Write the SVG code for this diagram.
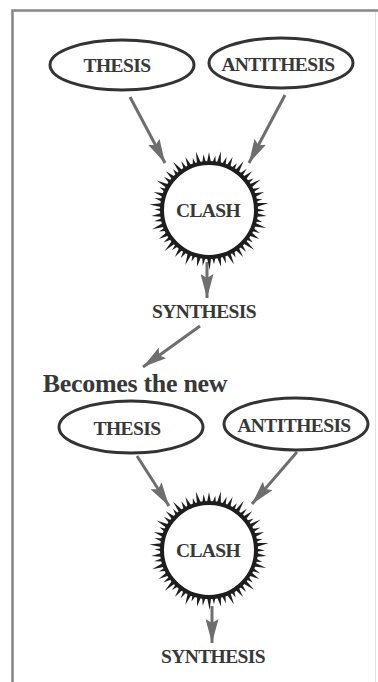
<svg xmlns="http://www.w3.org/2000/svg" xmlns:xlink="http://www.w3.org/1999/xlink" width="378" height="682" viewBox="0 0 378 682">
<style>
.t{font-family:"Liberation Serif","Times New Roman",serif;font-weight:bold;fill:#383838;text-anchor:middle;font-size:19.5px;letter-spacing:-0.6px}
.el{fill:#fff;stroke:#333;stroke-width:3}
.ar{stroke:#6e6e6e;stroke-width:3;fill:none;marker-end:url(#ah)}
.sp{fill:#1e1e1e}
</style>
<defs>
<marker id="ah" markerUnits="userSpaceOnUse" markerWidth="26" markerHeight="13" refX="24" refY="6.5" orient="auto">
<path d="M0,0 L24,6.5 L0,13 L4,6.5 Z" fill="#6e6e6e"/>
</marker>
<path id="s1" class="sp" d="M-2.3,-46 L0,-58 L2.3,-46Z"/>
<path id="s2" class="sp" d="M-2.1,-46 L0.7,-54.5 L2.1,-46Z"/>
<path id="s3" class="sp" d="M-2.3,-46 L-0.7,-60 L2.3,-46Z"/>
<path id="s4" class="sp" d="M-2.1,-46 L0.4,-56 L2.1,-46Z"/>
<g id="ring">
<circle r="47" fill="#fff" stroke="#1e1e1e" stroke-width="4"/>
<use xlink:href="#s1" transform="rotate(0)"/><use xlink:href="#s2" transform="rotate(6)"/><use xlink:href="#s3" transform="rotate(12)"/><use xlink:href="#s4" transform="rotate(18)"/>
<use xlink:href="#s1" transform="rotate(24)"/><use xlink:href="#s2" transform="rotate(30)"/><use xlink:href="#s3" transform="rotate(36)"/><use xlink:href="#s4" transform="rotate(42)"/>
<use xlink:href="#s1" transform="rotate(48)"/><use xlink:href="#s2" transform="rotate(54)"/><use xlink:href="#s3" transform="rotate(60)"/><use xlink:href="#s4" transform="rotate(66)"/>
<use xlink:href="#s1" transform="rotate(72)"/><use xlink:href="#s2" transform="rotate(78)"/><use xlink:href="#s3" transform="rotate(84)"/><use xlink:href="#s4" transform="rotate(90)"/>
<use xlink:href="#s1" transform="rotate(96)"/><use xlink:href="#s2" transform="rotate(102)"/><use xlink:href="#s3" transform="rotate(108)"/><use xlink:href="#s4" transform="rotate(114)"/>
<use xlink:href="#s1" transform="rotate(120)"/><use xlink:href="#s2" transform="rotate(126)"/><use xlink:href="#s3" transform="rotate(132)"/><use xlink:href="#s4" transform="rotate(138)"/>
<use xlink:href="#s1" transform="rotate(144)"/><use xlink:href="#s2" transform="rotate(150)"/><use xlink:href="#s3" transform="rotate(156)"/><use xlink:href="#s4" transform="rotate(162)"/>
<use xlink:href="#s1" transform="rotate(168)"/><use xlink:href="#s2" transform="rotate(174)"/><use xlink:href="#s3" transform="rotate(180)"/><use xlink:href="#s4" transform="rotate(186)"/>
<use xlink:href="#s1" transform="rotate(192)"/><use xlink:href="#s2" transform="rotate(198)"/><use xlink:href="#s3" transform="rotate(204)"/><use xlink:href="#s4" transform="rotate(210)"/>
<use xlink:href="#s1" transform="rotate(216)"/><use xlink:href="#s2" transform="rotate(222)"/><use xlink:href="#s3" transform="rotate(228)"/><use xlink:href="#s4" transform="rotate(234)"/>
<use xlink:href="#s1" transform="rotate(240)"/><use xlink:href="#s2" transform="rotate(246)"/><use xlink:href="#s3" transform="rotate(252)"/><use xlink:href="#s4" transform="rotate(258)"/>
<use xlink:href="#s1" transform="rotate(264)"/><use xlink:href="#s2" transform="rotate(270)"/><use xlink:href="#s3" transform="rotate(276)"/><use xlink:href="#s4" transform="rotate(282)"/>
<use xlink:href="#s1" transform="rotate(288)"/><use xlink:href="#s2" transform="rotate(294)"/><use xlink:href="#s3" transform="rotate(300)"/><use xlink:href="#s4" transform="rotate(306)"/>
<use xlink:href="#s1" transform="rotate(312)"/><use xlink:href="#s2" transform="rotate(318)"/><use xlink:href="#s3" transform="rotate(324)"/><use xlink:href="#s4" transform="rotate(330)"/>
<use xlink:href="#s1" transform="rotate(336)"/><use xlink:href="#s2" transform="rotate(342)"/><use xlink:href="#s3" transform="rotate(348)"/><use xlink:href="#s4" transform="rotate(354)"/>
</g>
</defs>
<rect width="378" height="682" fill="#fff"/>
<g id="frame">
<path d="M12.5,690 L12.5,10.5 L378,10.5" fill="none" stroke="#858585" stroke-width="2.5"/>
<line x1="375.5" y1="12" x2="375.5" y2="682" stroke="#e2e2e2" stroke-width="1"/>
</g>
<g id="connectors">
<line class="ar" x1="130" y1="97" x2="165" y2="163"/>
<line class="ar" x1="285" y1="95" x2="249" y2="163"/>
<line class="ar" x1="207" y1="262" x2="207" y2="298"/>
<line class="ar" x1="200" y1="326" x2="143" y2="367"/>
<line class="ar" x1="137" y1="456" x2="169" y2="506"/>
<line class="ar" x1="297" y1="452" x2="252" y2="504"/>
<line class="ar" x1="212" y1="606" x2="212" y2="643"/>
</g>
<g id="thesis1"><ellipse class="el" cx="122" cy="65" rx="72" ry="25"/><text class="t" x="117" y="72">THESIS</text></g>
<g id="antithesis1"><ellipse class="el" cx="281" cy="63" rx="72" ry="25"/><text class="t" x="278" y="71">ANTITHESIS</text></g>
<g id="clash1"><use xlink:href="#ring" transform="translate(209,210)"/><text class="t" x="208" y="217">CLASH</text></g>
<g id="synthesis1"><text class="t" x="204" y="318">SYNTHESIS</text></g>
<g id="becomes"><text class="t" x="135" y="392" style="font-size:26px;letter-spacing:-0.3px">Becomes the new</text></g>
<g id="thesis2"><ellipse class="el" cx="131" cy="427" rx="72" ry="26"/><text class="t" x="127" y="435">THESIS</text></g>
<g id="antithesis2"><ellipse class="el" cx="296" cy="424" rx="72" ry="26"/><text class="t" x="294" y="432">ANTITHESIS</text></g>
<g id="clash2"><use xlink:href="#ring" transform="translate(209,550)"/><text class="t" x="208" y="557">CLASH</text></g>
<g id="synthesis2"><text class="t" x="213" y="663">SYNTHESIS</text></g>
</svg>
